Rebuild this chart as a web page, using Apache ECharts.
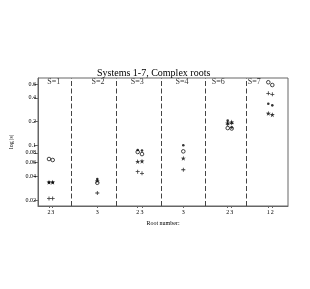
<!DOCTYPE html>
<html><head><meta charset="utf-8">
<script src="https://cdn.jsdelivr.net/npm/echarts@6/dist/echarts.min.js"></script>
<style>html,body{margin:0;padding:0;background:#fff}#c{width:310px;height:289px}</style>
</head><body><div id="c"></div>
<script>
// Panel separators (x-axis units) and panel labels
const panelEdges = [33.3, 78, 123, 167.5, 208];
const panelNames = ['S=1', 'S=2', 'S=3', 'S=4', 'S=6', 'S=7'];
const panelLabelX = [15.7, 60, 99.2, 144, 180.3, 216.3];
// Root positions on x axis and their root numbers
const rootX = [11, 14.7, 59.3, 99.7, 104, 145.3, 189.7, 193.7, 230.3, 234.3];
const rootNum = ['2', '3', '3', '2', '3', '3', '2', '3', '1', '2'];
// log|s| values per marker type, one per root position
const openCircle = [0.0666, 0.0647, 0.0332, 0.0818, 0.077, 0.0834, 0.165, 0.163, 0.632, 0.583];
const filledDot  = [0.0334, 0.0334, 0.037, 0.0867, 0.0855, 0.0995, 0.205, 0.168, 0.337, 0.321];
const starVal    = [0.0338, 0.0338, 0.0352, 0.0619, 0.0625, 0.068, 0.191, 0.197, 0.254, 0.244];
const plusVal    = [0.021, 0.021, 0.0246, 0.0459, 0.0438, 0.0486, 0.185, 0.19, 0.457, 0.444];
const yTicks = [0.02, 0.04, 0.06, 0.08, 0.1, 0.2, 0.4, 0.6];

const FONT = 'Liberation Serif';
const pts = arr => rootX.map((x, i) => [x, arr[i]]);
const plusPath = 'path://M4,0H6V4H10V6H6V10H4V6H0V4H4Z';
const starPath = 'path://M5,0L6.2,3.6L10,3.6L6.9,5.8L8.1,9.5L5,7.2L1.9,9.5L3.1,5.8L0,3.6L3.8,3.6Z';

const chart = echarts.init(document.getElementById('c'), null, {renderer: 'canvas'});
chart.setOption({
  animation: false,
  title: {text: 'Systems 1-7, Complex roots', left: 92, top: 63,
    textStyle: {fontFamily: FONT, fontSize: 10, fontWeight: 'normal', color: '#000'}},
  grid: {left: 38, right: 22, top: 78, bottom: 83, show: true, borderColor: '#666', borderWidth: 1, backgroundColor: 'transparent'},
  xAxis: {
    type: 'value', min: 0, max: 250,
    name: 'Root number:', nameLocation: 'middle', nameGap: 14,
    nameTextStyle: {fontFamily: FONT, fontSize: 6, color: '#000'},
    splitLine: {show: false},
    axisLine: {lineStyle: {color: '#666'}},
    axisTick: {show: true, length: 2, lineStyle: {color: '#666'}, customValues: rootX},
    axisLabel: {fontFamily: FONT, fontSize: 6, color: '#000', margin: 3, customValues: rootX,
      formatter: v => { const i = rootX.indexOf(v); return i >= 0 ? rootNum[i] : ''; }}
  },
  yAxis: {
    type: 'log', min: 0.0168, max: 0.716, logBase: 10,
    name: 'log |s|', nameLocation: 'middle', nameGap: 15, nameRotate: 90,
    nameTextStyle: {fontFamily: FONT, fontSize: 6, color: '#000'},
    splitLine: {show: false}, minorTick: {show: false},
    axisLine: {show: true, lineStyle: {color: '#666'}},
    axisTick: {show: true, length: 4, lineStyle: {color: '#666'}, customValues: yTicks},
    axisLabel: {fontFamily: FONT, fontSize: 6, color: '#000', margin: 2, customValues: yTicks,
      formatter: v => String(v)}
  },
  series: [
    {type: 'scatter', data: pts(openCircle), symbol: 'circle', symbolSize: 3.6,
      itemStyle: {color: '#fff', borderColor: '#000', borderWidth: 0.9},
      markLine: {silent: true, symbol: 'none', label: {show: false},
        lineStyle: {type: [5, 2.5], color: '#444', width: 1},
        data: panelEdges.map(x => ({xAxis: x}))}},
    {type: 'scatter', data: pts(filledDot), symbol: 'circle', symbolSize: 2.6, itemStyle: {color: '#000'}},
    {type: 'scatter', data: pts(starVal), symbol: starPath, symbolSize: 5, itemStyle: {color: '#000'}},
    {type: 'scatter', data: pts(plusVal), symbol: plusPath, symbolSize: 4, itemStyle: {color: '#000'}},
    {type: 'scatter', symbolSize: 0, silent: true,
      data: panelLabelX.map((x, i) => ({value: [x, 0.63], name: panelNames[i]})),
      label: {show: true, position: 'inside', formatter: p => p.name,
        fontFamily: FONT, fontSize: 8, color: '#000'}}
  ]
});
</script></body></html>
